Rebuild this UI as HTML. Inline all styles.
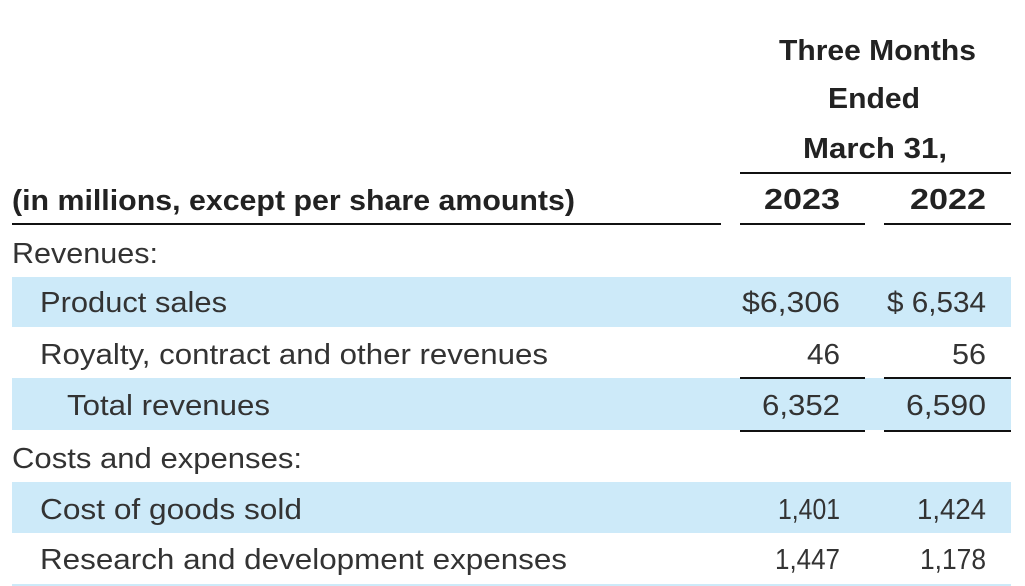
<!DOCTYPE html>
<html>
<head>
<meta charset="utf-8">
<style>
html,body{margin:0;padding:0;background:#fff;}
body{width:1025px;height:586px;overflow:hidden;}
svg{display:block;}
.h{font-family:"Liberation Sans",sans-serif;font-weight:bold;font-size:29px;fill:#222;}
.b{font-family:"Liberation Sans",sans-serif;font-size:29px;fill:#333;}
</style>
</head>
<body>
<svg width="1025" height="586" viewBox="0 0 1025 586" xmlns="http://www.w3.org/2000/svg">
  <!-- blue bands -->
  <rect x="12" y="277" width="999" height="50" fill="#cdeaf9"/>
  <rect x="12" y="378" width="999" height="52" fill="#cdeaf9"/>
  <rect x="12" y="482" width="999" height="51" fill="#cdeaf9"/>
  <rect x="12" y="584" width="999" height="2" fill="#cdeaf9"/>

  <!-- header -->
  <text class="h" x="779" y="60" textLength="197" lengthAdjust="spacingAndGlyphs">Three Months</text>
  <text class="h" x="828" y="108" textLength="92" lengthAdjust="spacingAndGlyphs">Ended</text>
  <text class="h" x="803" y="158" textLength="144" lengthAdjust="spacingAndGlyphs">March 31,</text>
  <rect x="740" y="172" width="271" height="2" fill="#111"/>
  <text class="h" x="764" y="209" textLength="76" lengthAdjust="spacingAndGlyphs">2023</text>
  <text class="h" x="910" y="209" textLength="76" lengthAdjust="spacingAndGlyphs">2022</text>
  <text class="h" x="12" y="210" textLength="563" lengthAdjust="spacingAndGlyphs">(in millions, except per share amounts)</text>
  <rect x="12" y="223" width="709" height="2" fill="#111"/>
  <rect x="740" y="223" width="125" height="2" fill="#111"/>
  <rect x="884" y="223" width="127" height="2" fill="#111"/>

  <!-- body labels -->
  <text class="b" x="12" y="263" textLength="146" lengthAdjust="spacingAndGlyphs">Revenues:</text>
  <text class="b" x="40" y="312" textLength="187" lengthAdjust="spacingAndGlyphs">Product sales</text>
  <text class="b" x="40" y="364" textLength="508" lengthAdjust="spacingAndGlyphs">Royalty, contract and other revenues</text>
  <text class="b" x="67" y="415" textLength="203" lengthAdjust="spacingAndGlyphs">Total revenues</text>
  <text class="b" x="12" y="468" textLength="290" lengthAdjust="spacingAndGlyphs">Costs and expenses:</text>
  <text class="b" x="40" y="519" textLength="262" lengthAdjust="spacingAndGlyphs">Cost of goods sold</text>
  <text class="b" x="40" y="569" textLength="527" lengthAdjust="spacingAndGlyphs">Research and development expenses</text>

  <!-- numbers -->
  <text class="b" x="742" y="312" textLength="98" lengthAdjust="spacingAndGlyphs">$6,306</text>
  <text class="b" x="887" y="312" textLength="99" lengthAdjust="spacingAndGlyphs">$ 6,534</text>
  <text class="b" x="807" y="364" textLength="33" lengthAdjust="spacingAndGlyphs">46</text>
  <text class="b" x="952" y="364" textLength="34" lengthAdjust="spacingAndGlyphs">56</text>
  <rect x="740" y="377" width="125" height="2" fill="#111"/>
  <rect x="884" y="377" width="127" height="2" fill="#111"/>
  <text class="b" x="762" y="415" textLength="78" lengthAdjust="spacingAndGlyphs">6,352</text>
  <text class="b" x="906" y="415" textLength="80" lengthAdjust="spacingAndGlyphs">6,590</text>
  <rect x="740" y="430" width="125" height="2" fill="#111"/>
  <rect x="884" y="430" width="127" height="2" fill="#111"/>
  <text class="b" x="778" y="519" textLength="62" lengthAdjust="spacingAndGlyphs">1,401</text>
  <text class="b" x="917" y="519" textLength="69" lengthAdjust="spacingAndGlyphs">1,424</text>
  <text class="b" x="775" y="569" textLength="65" lengthAdjust="spacingAndGlyphs">1,447</text>
  <text class="b" x="920" y="569" textLength="66" lengthAdjust="spacingAndGlyphs">1,178</text>
</svg>
</body>
</html>
